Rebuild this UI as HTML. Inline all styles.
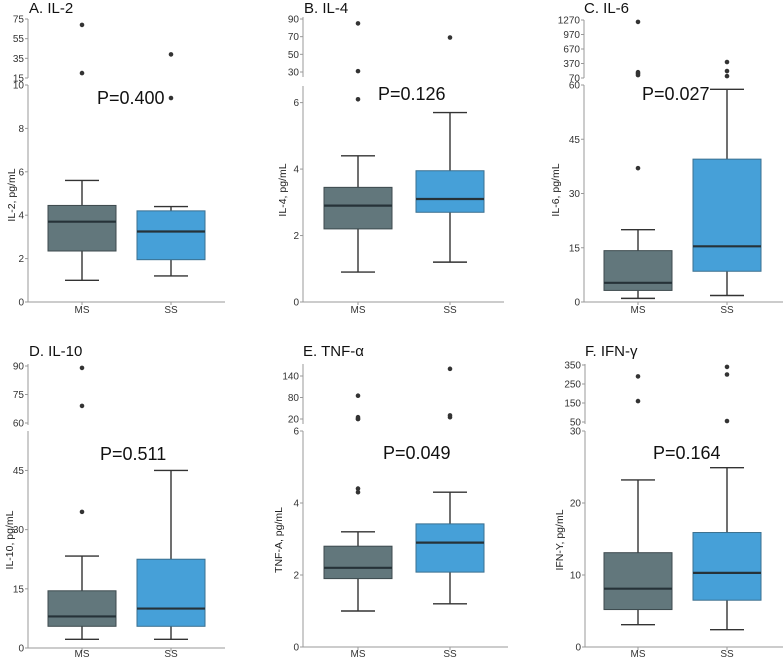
<!DOCTYPE html>
<html><head><meta charset="utf-8"><style>
html,body{margin:0;padding:0;background:#fff;}
svg{display:block;font-family:"Liberation Sans",sans-serif;}
</style></head><body>
<svg id="c" width="783" height="661" viewBox="0 0 783 661"></svg>
<script>
// ---- data (whisker-low, Q1, median, Q3, whisker-high) ----
const groups = ["MS","SS"];
const titles = ["A. IL-2","B. IL-4","C. IL-6","D. IL-10","E. TNF-\u03b1","F. IFN-\u03b3"];
const yTitles = ["IL-2, pg/mL","IL-4, pg/mL","IL-6, pg/mL","IL-10, pg/mL","TNF-A, pg/mL","IFN-Y, pg/mL"];
const pValues = ["P=0.400","P=0.126","P=0.027","P=0.511","P=0.049","P=0.164"];
const msBoxes = [[1.0,2.35,3.7,4.45,5.6],[0.9,2.2,2.9,3.45,4.4],[1,3.2,5.3,14.2,20],[2.2,5.5,8,14.5,23.3],[1.0,1.9,2.2,2.8,3.2],[3.1,5.2,8.1,13.1,23.2]];
const ssBoxes = [[1.2,1.95,3.25,4.2,4.4],[1.2,2.7,3.1,3.95,5.7],[1.8,8.5,15.4,39.5,58.8],[2.2,5.5,10,22.5,45],[1.2,2.08,2.9,3.42,4.3],[2.4,6.5,10.3,15.9,24.9]];
const msOutliers = [[20,69],[6.1,31,85],[37,130,160,190,1230],[34.5,69,89],[4.3,4.4,10,20,25,85],[160,290]];
const ssOutliers = [[9.4,39],[69],[110,214,400],[],[25,30,160],[55,300,340]];
const lowerTicks = [[0,2,4,6,8,10],[0,2,4,6],[0,15,30,45,60],[0,15,30,45],[0,2,4,6],[0,10,20,30]];
const upperTicks = [[15,35,55,75],[30,50,70,90],[70,370,670,970,1270],[60,75,90],[20,80,140],[50,150,250,350]];

// ---- layout (pixels, not data) ----
const L = [
 {ax:28, x1:82, x2:171, xe:225, y0:302, yLowTop:85, lowMax:10, upTop:19, upBot:78, upMin:15, upMax:75, lineTop:19, lineBot:78, tx:29, ty:13, px:97, py:104, ytx:12, yty:195, xly:316},
 {ax:303, x1:358, x2:450, xe:504, y0:302, yLowTop:86, lowMax:6.5, upTop:19, upBot:72, upMin:30, upMax:90, lineTop:17, lineBot:77, tx:304, ty:13, px:378, py:100, ytx:283, yty:190, xly:316},
 {ax:584, x1:638, x2:727, xe:783, y0:302, yLowTop:85, lowMax:60, upTop:20, upBot:78, upMin:70, upMax:1270, lineTop:20, lineBot:78, tx:584, ty:13, px:642, py:100, ytx:556, yty:190, xly:316},
 {ax:28, x1:82, x2:171, xe:225, y0:648, yLowTop:431, lowMax:55, upTop:366, upBot:423, upMin:60, upMax:90, lineTop:364, lineBot:425, tx:29, ty:356, px:100, py:460, ytx:10, yty:540, xly:660},
 {ax:303, x1:358, x2:450, xe:508, y0:647, yLowTop:431, lowMax:6, upTop:376, upBot:419, upMin:20, upMax:140, lineTop:364, lineBot:424, tx:303, ty:356, px:383, py:459, ytx:279, yty:540, xly:660},
 {ax:585, x1:638, x2:727, xe:783, y0:647, yLowTop:431, lowMax:30, upTop:365, upBot:422, upMin:50, upMax:350, lineTop:364, lineBot:424, tx:585, ty:356, px:653, py:459, ytx:560, yty:540, xly:660}
];
const NS="http://www.w3.org/2000/svg";
const svg=document.getElementById('c');
function mk(tag,attrs,parent,text){const e=document.createElementNS(NS,tag);for(const k in attrs)e.setAttribute(k,attrs[k]);if(text!==undefined)e.textContent=text;(parent||svg).appendChild(e);return e;}
const fills=["#62777c","#46a0d8"];
const strokes=["#3d4a4e","#3a6f8f"];
titles.forEach((t,i)=>{
  const g=L[i];
  const grp=mk('g',{});
  
  
  const yLow=v=>g.y0-(v/g.lowMax)*(g.y0-g.yLowTop);
  const yUp=v=>g.upBot-(v-g.upMin)/(g.upMax-g.upMin)*(g.upBot-g.upTop);
  const yAny=v=>v<=g.lowMax?yLow(v):yUp(Math.max(v,g.upMin));
  let e=mk('text',{x:g.tx,y:g.ty,'font-size':15,fill:'#111'},grp,t);
  
  e=mk('text',{x:g.ytx,y:g.yty,'font-size':10.5,fill:'#222','text-anchor':'middle',transform:`rotate(-90 ${g.ytx} ${g.yty})`,'dominant-baseline':'central'},grp,yTitles[i]);
  
  // axes
  e=mk('line',{x1:g.ax,y1:g.yLowTop,x2:g.ax,y2:g.y0,stroke:'#999','stroke-width':1},grp);
  
  e=mk('line',{x1:g.ax,y1:g.lineTop,x2:g.ax,y2:g.lineBot,stroke:'#999','stroke-width':1},grp);
  
  e=mk('line',{x1:g.ax,y1:g.y0,x2:g.xe,y2:g.y0,stroke:'#999','stroke-width':1},grp);
  
  lowerTicks[i].forEach(v=>{const y=yLow(v);
    mk('line',{x1:g.ax-3,y1:y,x2:g.ax,y2:y,stroke:'#999'},grp);
    const tt=mk('text',{x:g.ax-4,y:y+3.5,'font-size':10,fill:'#333','text-anchor':'end'},grp,String(v));
    });
  upperTicks[i].forEach(v=>{const y=yUp(v);
    mk('line',{x1:g.ax-3,y1:y,x2:g.ax,y2:y,stroke:'#999'},grp);
    const tt=mk('text',{x:g.ax-4,y:y+3.5,'font-size':10,fill:'#333','text-anchor':'end'},grp,String(v));
    });
  [msBoxes[i],ssBoxes[i]].forEach((b,k)=>{
    const cx=k===0?g.x1:g.x2;
    mk('line',{x1:g.ax?cx:cx,y1:g.y0,x2:cx,y2:g.y0+3,stroke:'#999'},grp);
    const xl=mk('text',{x:cx,y:g.xly-3,'font-size':10,fill:'#333','text-anchor':'middle'},grp,groups[k]);
    
    const wl=mk('line',{x1:cx,y1:yLow(b[0]),x2:cx,y2:yLow(b[4]),stroke:'#333','stroke-width':1.4},grp);
    
    mk('line',{x1:cx-17,y1:yLow(b[0]),x2:cx+17,y2:yLow(b[0]),stroke:'#333','stroke-width':1.4},grp);
    mk('line',{x1:cx-17,y1:yLow(b[4]),x2:cx+17,y2:yLow(b[4]),stroke:'#333','stroke-width':1.4},grp);
    const r=mk('rect',{x:cx-34,y:yLow(b[3]),width:68,height:yLow(b[1])-yLow(b[3]),fill:fills[k],stroke:strokes[k],'stroke-width':1},grp);
    
    const m=mk('line',{x1:cx-34,y1:yLow(b[2]),x2:cx+34,y2:yLow(b[2]),stroke:'#263238','stroke-width':2.2},grp);
    
    (k===0?msOutliers[i]:ssOutliers[i]).forEach(v=>{
      const c=mk('circle',{cx:cx,cy:yAny(v),r:2.3,fill:'#333'},grp);
      });
  });
  e=mk('text',{x:g.px,y:g.py,'font-size':18,fill:'#111'},grp,pValues[i]);
  
});
</script>
</body></html>
